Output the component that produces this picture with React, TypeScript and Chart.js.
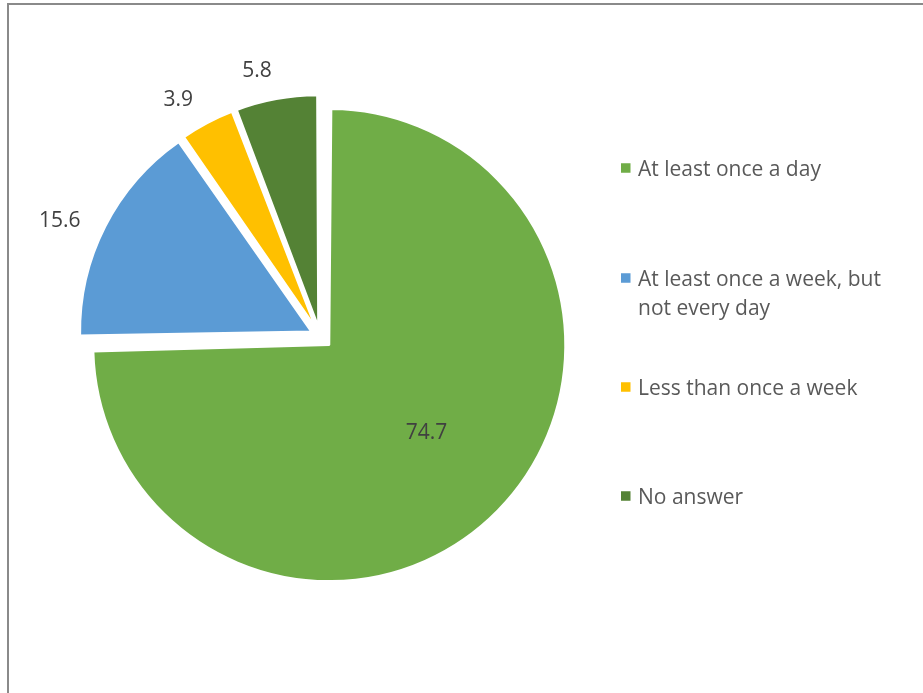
import React, { useEffect, useRef } from "react";
import { Chart, registerables } from "chart.js";

Chart.register(...registerables);

// ---- data ----
const categories: string[][] = [
  ["At least once a day"],
  ["At least once a week, but", "not every day"],
  ["Less than once a week"],
  ["No answer"],
];
const values: number[] = [74.7, 15.6, 3.9, 5.8];
const valueLabels: string[] = ["74.7", "15.6", "3.9", "5.8"];

// ---- styles ----
const colors = ["#70AD47", "#5B9BD5", "#FFC000", "#548235"];
const explodePx = [13, 10, 10, 10]; // visible shift of each slice, in px
const sliceRadius = [236, 231, 231, 231]; // drawn radius of each slice, in px
const PIE_RADIUS = 236;
const LABEL_ROTATE = (-3 * Math.PI) / 180;
const FONT = '21px "Open Sans"';
const CAP_HALF = 7.5;

const W = 923;
const H = 693;

// Chart.js ArcElement translates a slice by offset/4 and grows its radius by offset/4 * fix
const arcFix = (circ: number) => 1 - Math.sin(Math.min(Math.PI, circ));
const arcOffsets = explodePx.map((t) => t * 4);

const keepRadiusPlugin = {
  id: "keepRadius",
  afterUpdate(chart: any) {
    const meta = chart.getDatasetMeta(0);
    meta.data.forEach((arc: any, i: number) => {
      const shift = (arc.options.offset || 0) / 4;
      arc.outerRadius = sliceRadius[i] - shift * arcFix(arc.circumference);
    });
  },
};

const framePlugin = {
  id: "frame",
  beforeDraw(chart: any) {
    const ctx = chart.ctx;
    ctx.save();
    ctx.strokeStyle = "#8a8a8a";
    ctx.lineWidth = 2;
    ctx.strokeRect(8, 4, 2000, 2000);
    ctx.restore();
  },
};

const valueLabelPlugin = {
  id: "valueLabels",
  afterDatasetsDraw(chart: any) {
    const ctx = chart.ctx;
    const meta = chart.getDatasetMeta(0);
    ctx.save();
    ctx.font = FONT;
    ctx.fillStyle = "#404040";
    ctx.textAlign = "center";
    ctx.textBaseline = "alphabetic";
    meta.data.forEach((arc: any, i: number) => {
      const mid = (arc.startAngle + arc.endAngle) / 2;
      const shift = (arc.options.offset || 0) / 4;
      const r = arc.outerRadius + shift * arcFix(arc.circumference);
      const sx = arc.x + Math.cos(mid) * shift;
      const sy = arc.y + Math.sin(mid) * shift;
      const a = mid + LABEL_ROTATE;
      const c = Math.cos(a);
      const s = Math.sin(a);
      const text = valueLabels[i];
      let dist: number;
      if (i === 0) {
        dist = r * 0.55;
      } else {
        const w = ctx.measureText(text).width;
        const ext = Math.abs(c) * (w / 2) + Math.abs(s) * CAP_HALF;
        dist = r + 22 + ext;
      }
      ctx.fillText(text, sx + c * dist, sy + s * dist + CAP_HALF);
    });
    ctx.restore();
  },
};

const LEGEND_BOX_X = 621;
const LEGEND_TEXT_X = 638;
const LEGEND_Y = [168, 278, 387, 496];
const LEGEND_LINE_H = 29;
const LEGEND_BOX = 9.5;

const legendPlugin = {
  id: "sideLegend",
  afterDraw(chart: any) {
    const ctx = chart.ctx;
    const labels: string[][] = chart.data.labels;
    const bg: string[] = chart.data.datasets[0].backgroundColor;
    ctx.save();
    ctx.font = FONT;
    ctx.textAlign = "left";
    ctx.textBaseline = "alphabetic";
    labels.forEach((lines, i) => {
      const y = LEGEND_Y[i];
      ctx.fillStyle = bg[i];
      ctx.fillRect(LEGEND_BOX_X, y - LEGEND_BOX / 2, LEGEND_BOX, LEGEND_BOX);
      ctx.fillStyle = "#595959";
      lines.forEach((line, k) => {
        ctx.fillText(line, LEGEND_TEXT_X, y + k * LEGEND_LINE_H + CAP_HALF);
      });
    });
    ctx.restore();
  },
};

export default function App() {
  const ref = useRef<HTMLCanvasElement | null>(null);

  useEffect(() => {
    if (!ref.current) return;
    const chart = new Chart(ref.current, {
      type: "pie",
      data: {
        labels: categories as any,
        datasets: [
          {
            data: values,
            backgroundColor: colors,
            borderColor: "#ffffff",
            borderWidth: 2,
            offset: arcOffsets,
            radius: PIE_RADIUS,
          } as any,
        ],
      },
      options: {
        responsive: false,
        maintainAspectRatio: false,
        animation: false,
        events: [],
        layout: { padding: { left: 100, top: 100, right: 383, bottom: 121 } },
        plugins: {
          legend: { display: false },
          tooltip: { enabled: false },
        },
      } as any,
      plugins: [keepRadiusPlugin, framePlugin, valueLabelPlugin, legendPlugin],
    });
    return () => chart.destroy();
  }, []);

  return (
    <div style={{ position: "fixed", left: 0, top: 0, width: W, height: H, background: "#fff" }}>
      <canvas ref={ref} width={W} height={H} style={{ display: "block", width: W, height: H }} />
    </div>
  );
}
